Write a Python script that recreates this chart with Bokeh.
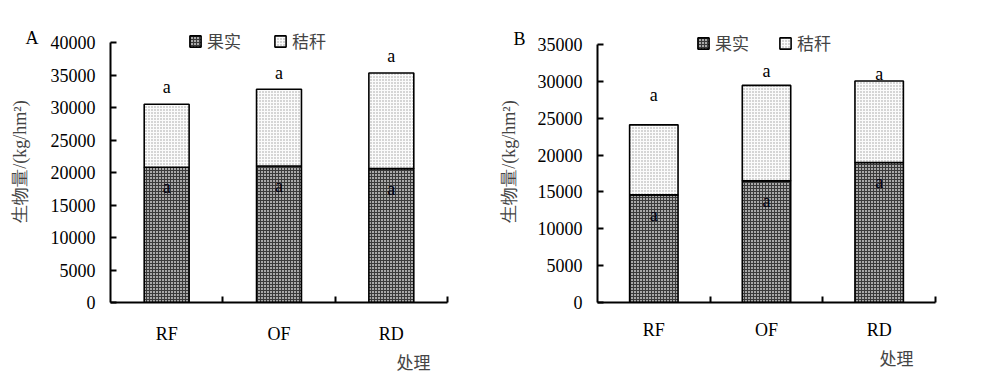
from bokeh.plotting import figure
from bokeh.layouts import row
from bokeh.models import (FixedTicker, LinearAxis, Range1d, Legend, LegendItem,
                          Title, BasicTickFormatter, ColumnDataSource)
from bokeh.core.properties import value
from bokeh.embed import file_html
from bokeh.resources import INLINE
import numpy as np

categories = ["RF", "OF", "RD"]
fruit_A = [20800, 21000, 20600]
straw_A = [9700, 11800, 14700]
fruit_B = [14600, 16500, 19000]
straw_B = [9500, 12950, 11050]
sig_fruit_A = ["a", "a", "a"]
sig_total_A = ["a", "a", "a"]
sig_fruit_B = ["a", "a", "a"]
sig_total_B = ["a", "a", "a"]
top_offset_A = [17, 16, 17]
top_offset_B = [30, 14, 7]
y_ticks_A = list(range(0, 40001, 5000))
y_ticks_B = list(range(0, 35001, 5000))

SERIF = "Liberation Serif"
CJK = "Noto Sans CJK SC"
FS = "18px"
H = 380
TOP, BOTTOM = 20, 78          # borders (frames of both panels are aligned)
FRAME_H = H - TOP - BOTTOM


def make_panel(fruit, straw, sig_f, sig_t, top_off, yticks, letter, width, border_left,
               frame_w, axis_px, bar_width, legend_loc, legend_spacing, letter_px,
               letter_standoff, xlab_offset, xlab_standoff, ylab_standoff, xtick_standoff):
    n = len(categories)
    xs = np.arange(n)
    total = [f + s for f, s in zip(fruit, straw)]
    per_px = yticks[-1] / axis_px
    y_end = FRAME_H * per_px
    p = figure(width=width, height=H, output_backend="svg", toolbar_location=None,
               x_range=Range1d(-0.5, n - 0.5), y_range=Range1d(0, y_end),
               x_axis_type=None, y_axis_type=None,
               min_border_left=border_left, min_border_right=width - border_left - frame_w,
               min_border_top=TOP, min_border_bottom=BOTTOM)
    p.outline_line_color = None
    p.grid.visible = False
    p.background_fill_color = "white"
    p.border_fill_color = "white"

    src = ColumnDataSource(dict(x=xs, fruit=fruit, straw=straw, total=total,
                                sf=sig_f, st=sig_t, off=[-o for o in top_off]))
    r1 = p.vbar(x="x", bottom=0, top="fruit", width=bar_width, source=src,
                fill_color="#a8a8a8", hatch_pattern="cross", hatch_color="#3a3a3a",
                hatch_scale=3, hatch_weight=1, line_color="black", line_width=1.6)
    r2 = p.vbar(x="x", bottom="fruit", top="total", width=bar_width, source=src,
                fill_color="#fbfbfb", hatch_pattern="dot", hatch_color="#9a9a9a",
                hatch_scale=3, hatch_weight=1, line_color="black", line_width=1.6)

    p.text(x="x", y="total", text="st", source=src, y_offset="off",
           text_align="center", text_baseline="middle", text_font=value(SERIF),
           text_font_size=FS, text_color="black")
    p.text(x="x", y="fruit", text="sf", source=src, y_offset=20,
           text_align="center", text_baseline="middle", text_font=value(SERIF),
           text_font_size=FS, text_color="#000010")

    # numeric y axis, adjacent to the frame
    yaxis = LinearAxis(ticker=FixedTicker(ticks=yticks), bounds=(0, yticks[-1]),
                       formatter=BasicTickFormatter(use_scientific=False))
    yaxis.axis_line_width = 2
    yaxis.major_tick_line_width = 2
    yaxis.major_tick_in = 6
    yaxis.major_tick_out = 0
    yaxis.minor_tick_line_color = None
    yaxis.major_label_text_font = SERIF
    yaxis.major_label_text_font_size = FS
    yaxis.major_label_text_color = "black"
    yaxis.major_label_standoff = 15
    p.add_layout(yaxis, "left")

    # outer guide: panel letter + axis title
    letter_val = yticks[-1] + letter_px * per_px
    guide = LinearAxis(ticker=FixedTicker(ticks=[letter_val]),
                       axis_label="生物量/(kg/hm²)")
    guide.major_label_overrides = {letter_val: letter}
    guide.axis_line_color = None
    guide.major_tick_line_color = None
    guide.minor_tick_line_color = None
    guide.major_label_text_font = SERIF
    guide.major_label_text_font_size = FS
    guide.major_label_text_color = "black"
    guide.major_label_standoff = letter_standoff
    guide.axis_label_text_font = SERIF
    guide.axis_label_text_font_size = FS
    guide.axis_label_text_font_style = "normal"
    guide.axis_label_text_color = "#444444"
    guide.axis_label_standoff = ylab_standoff
    p.add_layout(guide, "left")

    xaxis = LinearAxis(ticker=FixedTicker(ticks=list(xs),
                                          minor_ticks=[i + 0.5 for i in xs]))
    xaxis.major_label_overrides = {int(i): c for i, c in zip(xs, categories)}
    xaxis.axis_line_width = 2
    xaxis.major_tick_line_color = None
    xaxis.minor_tick_line_width = 2
    xaxis.minor_tick_in = 6
    xaxis.minor_tick_out = 0
    xaxis.major_label_text_font = SERIF
    xaxis.major_label_text_font_size = FS
    xaxis.major_label_text_color = "black"
    xaxis.major_label_standoff = xtick_standoff
    p.add_layout(xaxis, "below")

    t = Title(text="处理", align="right", offset=xlab_offset, standoff=xlab_standoff,
              text_font=CJK, text_font_size="17px", text_font_style="normal",
              text_color="#444444")
    p.add_layout(t, "below")

    legend = Legend(items=[LegendItem(label="果实", renderers=[r1]),
                           LegendItem(label="秸秆", renderers=[r2])],
                    location=legend_loc, orientation="horizontal",
                    glyph_width=14, glyph_height=14, label_standoff=5,
                    spacing=legend_spacing, padding=0, margin=0,
                    border_line_color=None, background_fill_alpha=0,
                    label_text_font=CJK, label_text_font_size="17px",
                    label_text_color="#444444")
    p.add_layout(legend, "center")
    return p


pA = make_panel(fruit_A, straw_A, sig_fruit_A, sig_total_A, top_offset_A, y_ticks_A, "A",
                490, 110, 337, 260, 0.40, (78, 249), 32, 5, 3,
                17, 0, -7, 15)
pB = make_panel(fruit_B, straw_B, sig_fruit_B, sig_total_B, top_offset_B, y_ticks_B, "B",
                500, 107, 338, 258, 0.43, (99, 247), 29, 6, 3,
                22, 0, -9, 11)

layout = row(pA, pB)
open("out.html", "w").write(file_html(layout, INLINE))
